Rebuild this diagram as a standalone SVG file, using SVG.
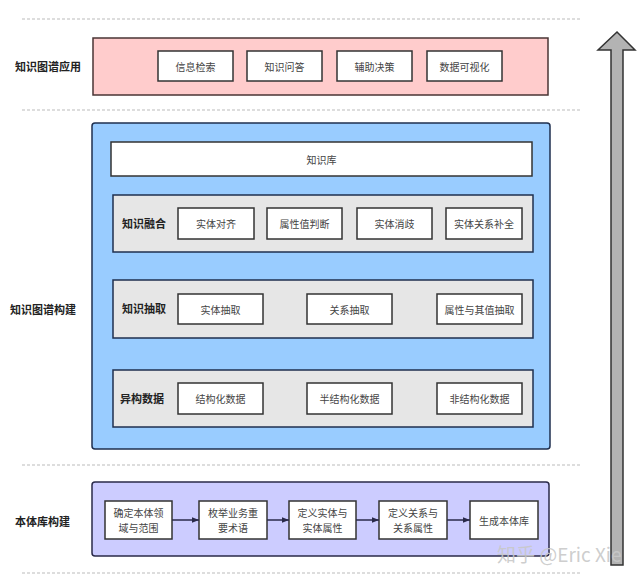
<svg xmlns="http://www.w3.org/2000/svg" width="640" height="582" viewBox="0 0 640 582">
<defs>
<style>
text{font-family:"Noto Sans CJK SC","Noto Sans",sans-serif;}
.lbl{font-size:11px;font-weight:bold;fill:#222;}
.t{font-size:10px;fill:#444;text-anchor:middle;dominant-baseline:central;}
.box{fill:#fff;stroke:#333;stroke-width:1.5;}
.panel{fill:#e6e6e6;stroke:#1f2f4f;stroke-width:1.5;}
.dash{stroke:#bbb;stroke-width:1;stroke-dasharray:3,2;fill:none;}
.conn{stroke:#2a2a4a;stroke-width:1.5;fill:none;marker-end:url(#ah);}
</style>
<marker id="ah" viewBox="0 0 10 10" refX="10" refY="5" markerWidth="7" markerHeight="7" orient="auto" markerUnits="userSpaceOnUse">
<path d="M0,1 L10,5 L0,9 z" fill="#2a2a4a"/>
</marker>
</defs>
<rect width="640" height="582" fill="#fff"/>
<g id="dividers">
<line class="dash" x1="22" y1="19" x2="580" y2="19"/>
<line class="dash" x1="22" y1="110" x2="580" y2="110"/>
<line class="dash" x1="22" y1="465" x2="580" y2="465"/>
<line class="dash" x1="22" y1="573" x2="580" y2="573"/>
</g>
<g id="layer-app">
<text class="lbl" x="15" y="71">知识图谱应用</text>
<rect x="93" y="38" width="455" height="57" fill="#ffcccc" stroke="#4a3535" stroke-width="1.5"/>
</g>
<g id="app-1"><rect class="box" x="158" y="51" width="75" height="30"/><text class="t" x="195.5" y="66">信息检索</text></g>
<g id="app-2"><rect class="box" x="247" y="51" width="75" height="30"/><text class="t" x="284.5" y="66">知识问答</text></g>
<g id="app-3"><rect class="box" x="337" y="51" width="75" height="30"/><text class="t" x="374.5" y="66">辅助决策</text></g>
<g id="app-4"><rect class="box" x="427" y="51" width="75" height="30"/><text class="t" x="464.5" y="66">数据可视化</text></g>

<g id="layer-build">
<text class="lbl" x="10" y="314">知识图谱构建</text>
<rect x="92" y="123" width="458" height="326" rx="3" fill="#99ccff" stroke="#1f2f4f" stroke-width="1.5"/>
</g>
<g id="kb"><rect class="box" x="111" y="142" width="421" height="34"/><text class="t" x="321.5" y="159">知识库</text></g>

<g id="fusion">
<rect class="panel" x="113" y="195" width="420" height="57"/>
<text class="lbl" x="122" y="228">知识融合</text>
</g>
<g id="fusion-1"><rect class="box" x="178" y="208" width="76" height="31"/><text class="t" x="216" y="223.5">实体对齐</text></g>
<g id="fusion-2"><rect class="box" x="267" y="208" width="75" height="31"/><text class="t" x="304.5" y="223.5">属性值判断</text></g>
<g id="fusion-3"><rect class="box" x="357" y="208" width="75" height="31"/><text class="t" x="394.5" y="223.5">实体消歧</text></g>
<g id="fusion-4"><rect class="box" x="446" y="208" width="76" height="31"/><text class="t" x="484" y="223.5">实体关系补全</text></g>

<g id="extract">
<rect class="panel" x="113" y="280" width="420" height="58"/>
<text class="lbl" x="122" y="313">知识抽取</text>
</g>
<g id="extract-1"><rect class="box" x="178" y="294" width="85" height="30"/><text class="t" x="220.5" y="309">实体抽取</text></g>
<g id="extract-2"><rect class="box" x="307" y="294" width="85" height="30"/><text class="t" x="349.5" y="309">关系抽取</text></g>
<g id="extract-3"><rect class="box" x="437" y="294" width="85" height="30"/><text class="t" x="479.5" y="309">属性与其值抽取</text></g>

<g id="hetero">
<rect class="panel" x="113" y="370" width="420" height="57"/>
<text class="lbl" x="120" y="403">异构数据</text>
</g>
<g id="hetero-1"><rect class="box" x="178" y="383" width="85" height="31"/><text class="t" x="220.5" y="398.5">结构化数据</text></g>
<g id="hetero-2"><rect class="box" x="307" y="383" width="85" height="31"/><text class="t" x="349.5" y="398.5">半结构化数据</text></g>
<g id="hetero-3"><rect class="box" x="437" y="383" width="85" height="31"/><text class="t" x="479.5" y="398.5">非结构化数据</text></g>

<g id="layer-onto">
<text class="lbl" x="15" y="526">本体库构建</text>
<rect x="92" y="482" width="457" height="74" rx="3" fill="#ccccff" stroke="#2a2a4a" stroke-width="1.5"/>
</g>
<g id="onto-1"><rect class="box" x="105" y="501" width="67" height="38"/><text class="t" x="138.5" y="512">确定本体领</text><text class="t" x="138.5" y="527">域与范围</text></g>
<g id="onto-2"><rect class="box" x="199" y="501" width="68" height="38"/><text class="t" x="233" y="512">枚举业务重</text><text class="t" x="233" y="527">要术语</text></g>
<g id="onto-3"><rect class="box" x="289" y="501" width="67" height="38"/><text class="t" x="322.5" y="512">定义实体与</text><text class="t" x="322.5" y="527">实体属性</text></g>
<g id="onto-4"><rect class="box" x="379" y="501" width="68" height="38"/><text class="t" x="413" y="512">定义关系与</text><text class="t" x="413" y="527">关系属性</text></g>
<g id="onto-5"><rect class="box" x="470" y="501" width="68" height="38"/><text class="t" x="504" y="520">生成本体库</text></g>

<g id="connectors">
<line class="conn" x1="172" y1="520" x2="199" y2="520"/>
<line class="conn" x1="267" y1="520" x2="289" y2="520"/>
<line class="conn" x1="356" y1="520" x2="379" y2="520"/>
<line class="conn" x1="447" y1="520" x2="470" y2="520"/>
</g>

<g id="big-arrow">
<path d="M611,565 L611,50 L598,50 L617,32 L635,50 L623,50 L623,565 Z" fill="#b3b3b3" stroke="#333" stroke-width="1.5" stroke-linejoin="miter"/>
</g>
<g id="watermark">
<text x="497" y="562" font-size="19" fill="#c8c8c8" fill-opacity="0.9">知乎 @Eric Xie</text>
</g>
</svg>
